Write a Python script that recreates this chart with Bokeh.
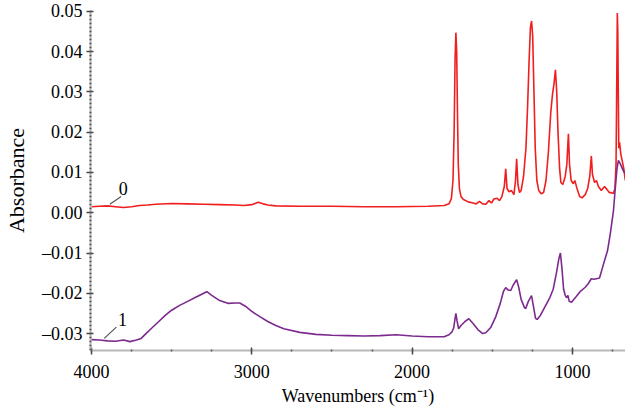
from bokeh.plotting import figure
from bokeh.models import Range1d, FixedTicker, CustomJSTickFormatter
from bokeh.core.properties import value
from bokeh.embed import file_html
from bokeh.resources import INLINE

# ---- data ----
wn0 = [4000, 3950, 3900, 3850, 3800, 3750, 3700, 3650, 3600, 3500, 3400, 3300, 3200, 3100,
       3050, 3000, 2960, 2930, 2900, 2850, 2700, 2500, 2300, 2100, 1900, 1800, 1770, 1755,
       1745, 1738, 1732, 1727, 1722, 1716, 1712, 1705, 1695, 1680, 1650, 1620, 1600, 1580,
       1560, 1540, 1520, 1505, 1490, 1470, 1455, 1440, 1425, 1416, 1408, 1395, 1380, 1365,
       1355, 1348, 1340, 1330, 1320, 1305, 1290, 1280, 1270, 1262, 1255, 1248, 1240, 1232,
       1222, 1210, 1195, 1180, 1165, 1150, 1135, 1124, 1115, 1106, 1098, 1090, 1080, 1072,
       1060, 1045, 1035, 1025, 1018, 1008, 995, 985, 970, 955, 940, 920, 905, 892, 882, 875,
       862, 850, 838, 820, 800, 785, 770, 760, 745, 735, 728, 724, 720, 717, 714, 711, 706,
       698, 690, 680, 670]
ab0 = [0.0015, 0.0016, 0.0017, 0.0015, 0.0013, 0.0015, 0.0018, 0.0019, 0.0021, 0.0023, 0.0022,
       0.0021, 0.0020, 0.0019, 0.0018, 0.0020, 0.0026, 0.0022, 0.0019, 0.0017, 0.0016, 0.0016,
       0.0015, 0.0015, 0.0016, 0.0018, 0.0022, 0.0035, 0.008, 0.020, 0.038, 0.0447, 0.040,
       0.022, 0.012, 0.006, 0.004, 0.0033, 0.0027, 0.0024, 0.0022, 0.0028, 0.0022, 0.0021,
       0.0030, 0.0024, 0.0034, 0.0036, 0.0030, 0.0040, 0.0065, 0.0109, 0.0060, 0.0052, 0.0055,
       0.0045, 0.0080, 0.0134, 0.0070, 0.0050, 0.0055, 0.0090, 0.016, 0.026, 0.038, 0.046,
       0.0476, 0.044, 0.030, 0.016, 0.008, 0.0055, 0.0047, 0.0050, 0.0080, 0.0150, 0.0250,
       0.0295, 0.0320, 0.0355, 0.0300, 0.0200, 0.0110, 0.0075, 0.0070, 0.0090, 0.0120, 0.0196,
       0.0120, 0.0080, 0.0072, 0.0080, 0.0058, 0.0040, 0.0037, 0.0045, 0.0060, 0.0090, 0.0141,
       0.0095, 0.0075, 0.0080, 0.0065, 0.0055, 0.0065, 0.0058, 0.0050, 0.0050, 0.0048, 0.0060,
       0.0120, 0.0300, 0.0496, 0.0450, 0.0300, 0.0160, 0.0175, 0.0145, 0.0130, 0.0110, 0.0080,
       0.0075]

wn1 = [4000, 3950, 3900, 3850, 3800, 3760, 3720, 3690, 3660, 3620, 3580, 3540, 3500, 3450,
       3400, 3350, 3300, 3280, 3250, 3200, 3150, 3100, 3075, 3040, 3000, 2950, 2900, 2850,
       2800, 2700, 2600, 2500, 2400, 2300, 2200, 2100, 2000, 1900, 1800, 1770, 1750, 1740,
       1733, 1727, 1720, 1710, 1695, 1670, 1646, 1620, 1590, 1560, 1540, 1510, 1480, 1450,
       1430, 1416, 1400, 1385, 1370, 1348, 1335, 1320, 1300, 1292, 1275, 1255, 1242, 1230,
       1220, 1200, 1180, 1160, 1140, 1120, 1100, 1085, 1075, 1065, 1055, 1045, 1037, 1028,
       1020, 1006, 980, 950, 920, 900, 882, 865, 831, 808, 781, 763, 744, 733, 722, 713, 700,
       680, 670]
ab1 = [-0.0315, -0.0316, -0.0318, -0.0319, -0.0316, -0.0320, -0.0316, -0.0312, -0.0300, -0.0285,
       -0.0270, -0.0255, -0.0242, -0.0230, -0.0220, -0.0210, -0.0200, -0.0196, -0.0205, -0.0218,
       -0.0225, -0.0224, -0.0224, -0.0232, -0.0245, -0.0258, -0.0270, -0.0280, -0.0288, -0.0297,
       -0.0302, -0.0304, -0.0305, -0.0306, -0.0305, -0.0303, -0.0306, -0.0308, -0.0308, -0.0303,
       -0.0295, -0.0285, -0.0265, -0.0250, -0.0268, -0.0288, -0.0280, -0.0270, -0.0263, -0.0275,
       -0.0290, -0.0300, -0.0298, -0.0285, -0.0260, -0.0225, -0.0195, -0.0186, -0.0192, -0.0193,
       -0.0180, -0.0166, -0.0185, -0.0215, -0.0235, -0.0238, -0.0220, -0.0206, -0.0235, -0.0262,
       -0.0265, -0.0255, -0.0240, -0.0225, -0.0210, -0.0190, -0.0150, -0.0115, -0.0100, -0.0140,
       -0.0190, -0.0205, -0.0211, -0.0205, -0.0220, -0.0222, -0.0210, -0.0195, -0.0185, -0.0175,
       -0.0164, -0.0165, -0.0162, -0.0130, -0.0094, -0.0050, 0.0005, 0.0060, 0.0110, 0.0130,
       0.0120, 0.0102, 0.0098]

x_ticks = [4000, 3000, 2000, 1000]
y_ticks = [-0.03, -0.02, -0.01, 0.0, 0.01, 0.02, 0.03, 0.04, 0.05]
series_names = ["0", "1"]
x_title = "Wavenumbers (cm\u207b\u00b9)"
y_title = "Absorbance"

FONT = "Liberation Serif"

p = figure(width=625, height=408, output_backend="svg", toolbar_location=None,
           x_range=Range1d(4006, 669), y_range=Range1d(-0.0342, 0.0502),
           min_border_left=90, min_border_top=10, min_border_right=0, min_border_bottom=58)
p.outline_line_color = None
p.grid.visible = False
p.background_fill_color = "white"

p.line(wn0, ab0, line_color="#f01e1e", line_width=1.6)
p.line(wn1, ab1, line_color="#7d2a8e", line_width=1.6)

# series labels with short leader lines
p.segment(x0=[3885, 3920], y0=[0.0021, -0.0312], x1=[3815, 3845], y1=[0.0040, -0.0284],
          line_color="#555555", line_width=1.2)
p.text(x=[3830, 3835], y=[0.0045, -0.0282], text=series_names,
       text_font=value(FONT), text_font_size="18px", text_color="black",
       text_baseline="bottom", text_align="left")

for ax in (p.xaxis[0], p.yaxis[0]):
    ax.axis_line_color = "#b8b8b8"
    ax.axis_line_width = 2
    ax.major_tick_line_color = "#444444"
    ax.minor_tick_line_color = "#555555"
    ax.major_tick_line_width = 1.5
    ax.minor_tick_line_width = 1.5
    ax.major_tick_in = 3
    ax.major_tick_out = 4
    ax.minor_tick_in = 1
    ax.minor_tick_out = 1
    ax.major_label_text_font = FONT
    ax.major_label_text_font_size = "18px"
    ax.major_label_text_color = "black"
    ax.axis_label_text_font = FONT
    ax.axis_label_text_font_style = "normal"
    ax.axis_label_text_color = "black"

p.xaxis.ticker = FixedTicker(ticks=x_ticks, minor_ticks=list(range(750, 4001, 250)))
p.xaxis.axis_label = x_title
p.xaxis.axis_label_text_font_size = "18px"
p.xaxis.major_label_standoff = 10
p.xaxis.axis_label_standoff = 5

p.yaxis.ticker = FixedTicker(ticks=y_ticks,
                             minor_ticks=[round(-0.034 + i * 0.001, 3) for i in range(85)])
p.yaxis.formatter = CustomJSTickFormatter(
    code="var s = Math.abs(tick) < 1e-9 ? '0.00' : tick.toFixed(2); return s.replace('-', '\u2013');")
p.yaxis.axis_label = y_title
p.yaxis.axis_label_text_font_size = "22px"
p.yaxis.major_label_standoff = 4
p.yaxis.axis_label_standoff = 10

open("out.html", "w").write(file_html(p, INLINE))
